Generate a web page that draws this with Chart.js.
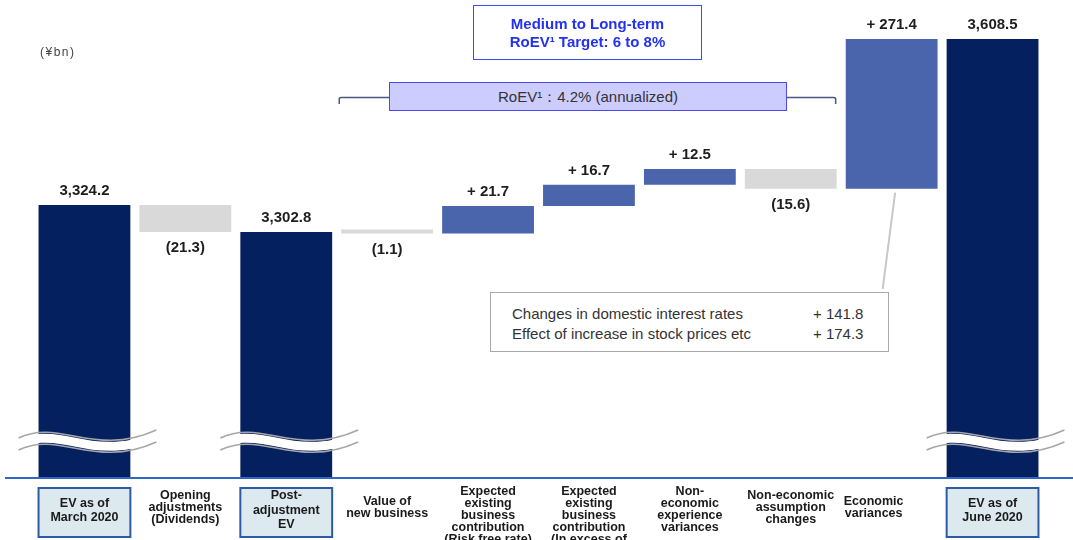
<!DOCTYPE html>
<html>
<head>
<meta charset="utf-8">
<script src="https://cdn.jsdelivr.net/npm/chart.js@4.4.1/dist/chart.umd.min.js"></script>
<style>
  html, body { margin: 0; padding: 0; background: #fff; }
  #wrap { position: relative; width: 1073px; height: 540px; overflow: hidden;
          font-family: "Liberation Sans", Arial, sans-serif; }
  #wrap canvas { position: absolute; left: 0; top: 0; }
  .unit { position: absolute; left: 40px; top: 45px; font-size: 12px; letter-spacing: 1.5px; color: #444; }
  .target { position: absolute; left: 473px; top: 5px; width: 229px; height: 55px; box-sizing: border-box;
            border: 1.5px solid #3b4cf0; color: #2432ee; font-weight: bold; font-size: 15px; line-height: 18px;
            text-align: center; display: flex; flex-direction: column; justify-content: center; }
  .roev { position: absolute; left: 389px; top: 82px; width: 398px; height: 29px; box-sizing: border-box;
          background: #ccccff; border: 1px solid #4a4af0; color: #333; font-size: 15px; line-height: 27px;
          text-align: center; }
  .econ { position: absolute; left: 490px; top: 292px; width: 399px; height: 60px; box-sizing: border-box;
          border: 1px solid #aaa; background: #fff; color: #333; font-size: 15px; line-height: 18px; }
  .econ span { position: absolute; white-space: nowrap; }
</style>
</head>
<body>
<div id="wrap">
  <canvas id="c" width="1073" height="540"></canvas>
  <div class="unit">(¥bn)</div>
  <div class="target" id="target"></div>
  <div class="roev" id="roev"></div>
  <div class="econ" id="econ"></div>
</div>
<script>
// ---- data ----
const categories = [
  ["EV as of", "March 2020"],
  ["Opening", "adjustments", "(Dividends)"],
  ["Post-", "adjustment", "EV"],
  ["Value of", "new business"],
  ["Expected", "existing", "business", "contribution", "(Risk free rate)"],
  ["Expected", "existing", "business", "contribution", "(In excess of", "risk free rate)"],
  ["Non-", "economic", "experience", "variances"],
  ["Non-economic", "assumption", "changes"],
  ["Economic", "variances"],
  ["EV as of", "June 2020"]
];
const evMarch2020 = 3324.2;
const openingAdjustment = -21.3;
const postAdjustmentEV = 3302.8;
const movements = [-1.1, 21.7, 16.7, 12.5, -15.6, 271.4];
const evJune2020 = 3608.5;
const economicItems = ["Changes in domestic interest rates", "Effect of increase in stock prices etc"];
const economicValues = [141.8, 174.3];
const roevAnnualized = 4.2;
const roevTarget = [6, 8];

// ---- bar ranges for the waterfall ----
const kinds = ["total", openingAdjustment < 0 ? "down" : "up", "total"];
const barData = [evMarch2020, [evMarch2020 + openingAdjustment, evMarch2020], postAdjustmentEV];
const labelValues = [evMarch2020, openingAdjustment, postAdjustmentEV];
let level = postAdjustmentEV;
movements.forEach(d => {
  const next = level + d;
  barData.push([Math.min(level, next), Math.max(level, next)]);
  kinds.push(d < 0 ? "down" : "up");
  labelValues.push(d);
  level = next;
});
barData.push(evJune2020);
kinds.push("total");
labelValues.push(evJune2020);

const COLORS = { total: "#04205f", up: "#4a65ac", down: "#d9d9d9" };
const boxed = [0, 2, 9];
const labelShiftX = { 8: -18 };   // "Economic variances" sits slightly left of its bar

function fmt(v, kind) {
  if (kind === "total") return v.toLocaleString("en-US", { minimumFractionDigits: 1, maximumFractionDigits: 1 });
  if (kind === "up") return "+ " + v.toFixed(1);
  return "(" + Math.abs(v).toFixed(1) + ")";
}

// ---- text panels ----
document.getElementById("target").innerHTML =
  "<div>Medium to Long-term</div><div>RoEV¹ Target: " + roevTarget[0] + " to " + roevTarget[1] + "%</div>";
document.getElementById("roev").textContent = "RoEV¹：" + roevAnnualized.toFixed(1) + "% (annualized)";
document.getElementById("econ").innerHTML = economicItems.map((t, i) =>
  '<span style="left:21px;top:' + (12 + i * 20) + 'px">' + t + '</span>' +
  '<span style="left:322px;top:' + (12 + i * 20) + 'px">+ ' + economicValues[i].toFixed(1) + '</span>'
).join("");

// ---- value axis with a compressed upper section ----
class BrokenLinearScale extends Chart.LinearScale {
  warp(v) { const w = this.options.warp; return (!w || v <= w.from) ? v : w.from + (v - w.from) * w.ratio; }
  unwarp(u) { const w = this.options.warp; return (!w || u <= w.from) ? u : w.from + (u - w.from) / w.ratio; }
  getPixelForValue(value) {
    const a = this.warp(this.min), b = this.warp(this.max);
    return this.getPixelForDecimal((this.warp(value) - a) / (b - a));
  }
  getValueForPixel(pixel) {
    const a = this.warp(this.min), b = this.warp(this.max);
    return this.unwarp(a + this.getDecimalForPixel(pixel) * (b - a));
  }
}
BrokenLinearScale.id = "brokenLinear";
BrokenLinearScale.defaults = Chart.LinearScale.defaults;
Chart.register(BrokenLinearScale);

const FONT = '"Liberation Sans", Arial, sans-serif';

function wavePath(ctx, x0, w, yc) {
  ctx.moveTo(x0, yc + 2);
  ctx.bezierCurveTo(x0 + 0.3 * w, yc - 18, x0 + 0.55 * w, yc + 22, x0 + w, yc - 6);
}
function waveBack(ctx, x0, w, yc) {
  ctx.lineTo(x0 + w, yc - 6);
  ctx.bezierCurveTo(x0 + 0.55 * w, yc + 22, x0 + 0.3 * w, yc - 18, x0, yc + 2);
}

const decorations = {
  id: "waterfallDecorations",
  afterDatasetsDraw(chart) {
    const ctx = chart.ctx;
    const meta = chart.getDatasetMeta(0);
    const area = chart.chartArea;
    const xs = chart.scales.x;

    // axis breaks across the total bars
    boxed.forEach(i => {
      const el = meta.data[i];
      const x0 = el.x - el.width / 2 - 20, w = el.width + 46;
      const y1 = area.bottom - 42, y2 = area.bottom - 30;
      ctx.save();
      ctx.beginPath();
      wavePath(ctx, x0, w, y1 + 1.5);
      waveBack(ctx, x0, w, y2 - 1.5);
      ctx.closePath();
      ctx.fillStyle = "#fff";
      ctx.fill();
      ctx.strokeStyle = "#a6a6a6";
      ctx.lineWidth = 1.5;
      ctx.beginPath(); wavePath(ctx, x0, w, y1); ctx.stroke();
      ctx.beginPath(); wavePath(ctx, x0, w, y2); ctx.stroke();
      ctx.restore();
    });

    // base line
    ctx.save();
    ctx.strokeStyle = "#3366c4";
    ctx.lineWidth = 2;
    ctx.beginPath();
    ctx.moveTo(5, area.bottom);
    ctx.lineTo(chart.width, area.bottom);
    ctx.stroke();
    ctx.restore();

    // value labels
    ctx.save();
    ctx.font = "bold 15px " + FONT;
    ctx.fillStyle = "#1e1e1e";
    ctx.textAlign = "center";
    ctx.textBaseline = "middle";
    meta.data.forEach((el, i) => {
      const top = Math.min(el.y, el.base), bottom = Math.max(el.y, el.base);
      const txt = fmt(labelValues[i], kinds[i]);
      if (kinds[i] === "down") ctx.fillText(txt, el.x, bottom + 16);
      else ctx.fillText(txt, el.x, top - 14);
    });
    ctx.restore();

    // connector from economic variances to its breakdown panel
    const econ = meta.data[8];
    ctx.save();
    ctx.strokeStyle = "#c8c8c8";
    ctx.lineWidth = 2;
    ctx.beginPath();
    ctx.moveTo(econ.x + 3.5, Math.max(econ.y, econ.base) + 4);
    ctx.lineTo(econ.x - 9, 289);
    ctx.stroke();
    ctx.restore();

    // bracket spanning the RoEV components
    const a = meta.data[3], b = meta.data[7];
    const bl = a.x - a.width / 2 - 2, br = b.x + b.width / 2 - 1;
    ctx.save();
    ctx.strokeStyle = "#4a5780";
    ctx.lineWidth = 1.5;
    ctx.beginPath();
    ctx.moveTo(bl, 104);
    ctx.lineTo(bl, 99);
    ctx.quadraticCurveTo(bl, 97.5, bl + 2, 97.5);
    ctx.lineTo(br - 2, 97.5);
    ctx.quadraticCurveTo(br, 97.5, br, 99);
    ctx.lineTo(br, 104);
    ctx.stroke();
    ctx.restore();

    // category labels
    ctx.save();
    ctx.textAlign = "center";
    ctx.textBaseline = "middle";
    categories.forEach((lines, i) => {
      const cx = xs.getPixelForValue(i) + (labelShiftX[i] || 0);
      ctx.font = "bold 12.5px " + FONT;
      if (boxed.includes(i)) {
        const el = meta.data[i];
        const bx = cx - el.width / 2, by = 488, bw = el.width, bh = 49;
        ctx.fillStyle = "#dce9ee";
        ctx.fillRect(bx, by, bw, bh);
        ctx.strokeStyle = "#2c5aa6";
        ctx.lineWidth = 2;
        ctx.strokeRect(bx, by, bw, bh);
        ctx.fillStyle = "#1a1a1a";
        const lh = 14.5;
        const y0 = by + bh / 2 - 2 - (lines.length - 1) * lh / 2;
        lines.forEach((t, k) => ctx.fillText(t, cx, y0 + k * lh));
      } else {
        ctx.fillStyle = "#1a1a1a";
        const lh = 12;
        const y0 = Math.max(492, 508 - (lines.length - 1) * lh / 2);
        lines.forEach((t, k) => ctx.fillText(t, cx, y0 + k * lh));
      }
    });
    ctx.restore();
  }
};

new Chart(document.getElementById("c"), {
  type: "bar",
  data: {
    labels: categories.map(l => l.join(" ")),
    datasets: [{
      data: barData,
      backgroundColor: kinds.map(k => COLORS[k]),
      borderWidth: 0,
      categoryPercentage: 1,
      barPercentage: 0.91,
      minBarLength: 4
    }]
  },
  options: {
    responsive: false,
    animation: false,
    layout: { padding: { left: 34, right: 30, top: 39, bottom: 62 } },
    plugins: { legend: { display: false }, tooltip: { enabled: false } },
    scales: {
      x: { display: false },
      y: { type: "brokenLinear", display: false, min: 3109, max: 3608.5,
           warp: { from: 3352.6, ratio: 0.4 } }
    }
  },
  plugins: [decorations]
});
</script>
</body>
</html>
